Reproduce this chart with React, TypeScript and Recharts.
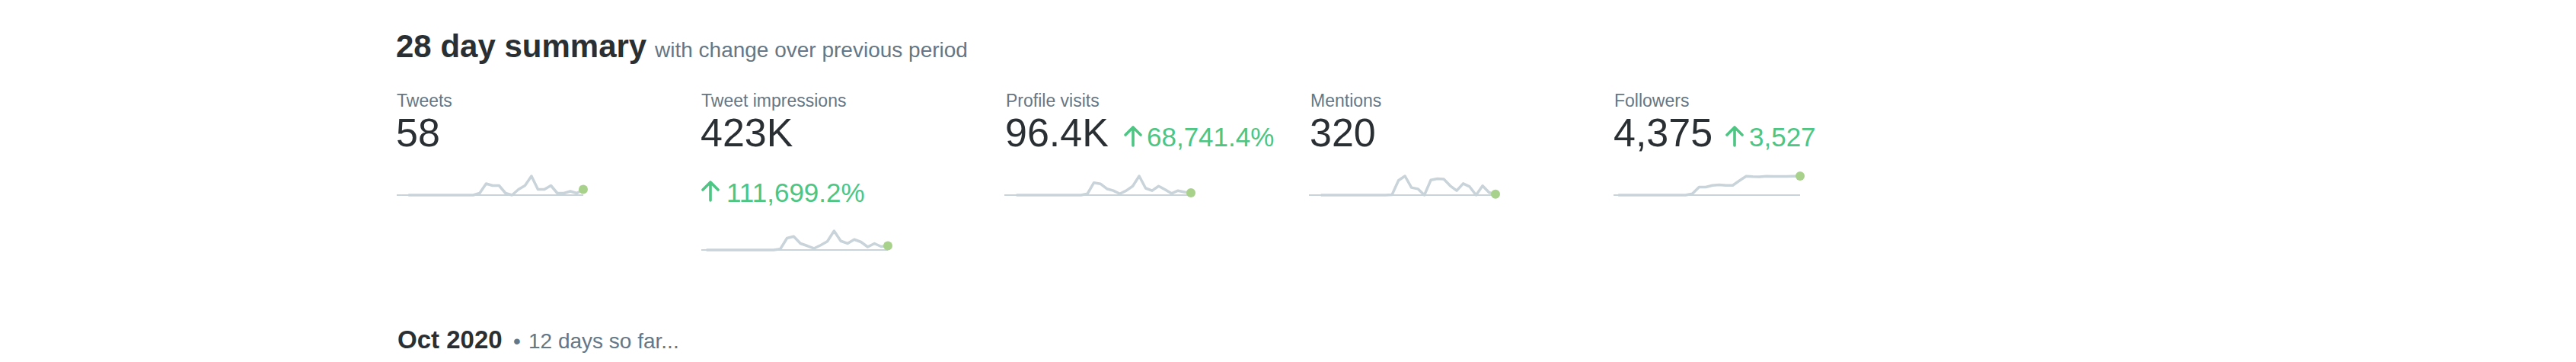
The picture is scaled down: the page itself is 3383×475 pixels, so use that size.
import React from "react";
import { LineChart, Line, XAxis, YAxis, ReferenceLine, ReferenceDot } from "recharts";

// ---- data ----
const DAY_LABELS = [
  "Sep 15", "Sep 16", "Sep 17", "Sep 18", "Sep 19", "Sep 20", "Sep 21",
  "Sep 22", "Sep 23", "Sep 24", "Sep 25", "Sep 26", "Sep 27", "Sep 28",
  "Sep 29", "Sep 30", "Oct 1", "Oct 2", "Oct 3", "Oct 4", "Oct 5",
  "Oct 6", "Oct 7", "Oct 8", "Oct 9", "Oct 10", "Oct 11", "Oct 12",
];

const TWEETS = [0, 0, 0, 0, 0, 0, 0, 0, 0, 0, 0, 1, 6, 5, 5, 1, 0, 3, 5, 10, 3, 3, 5, 1, 1, 2, 1, 3];
const IMPRESSIONS = [
  0, 0, 0, 0, 0, 0, 0, 0, 0, 0,
  200, 3300, 41000, 47000, 22500, 14500, 5300, 16500, 29700, 66000,
  31000, 22500, 36300, 27700, 10600, 22500, 11900, 14500,
];
const PROFILE_VISITS = [
  0, 0, 0, 0, 0, 0, 0, 0, 0, 0,
  0, 1200, 11200, 10200, 5700, 4000, 1200, 4000, 8100, 17200,
  6200, 4000, 8100, 5000, 1500, 4000, 2800, 2100,
];
const MENTIONS = [0, 0, 0, 0, 0, 0, 0, 0, 0, 0, 0, 1, 33, 43, 17, 14, 0, 34, 37, 36, 21, 10, 26, 19, 0, 21, 6, 2];
const FOLLOWERS = [
  848, 848, 848, 848, 848, 848, 848, 848, 848, 848,
  848, 1095, 2329, 2329, 2647, 2752, 2647, 2647, 3529, 4340,
  4270, 4235, 4330, 4290, 4300, 4310, 4345, 4375,
];

const METRIC_LABELS = ["Tweets", "Tweet impressions", "Profile visits", "Mentions", "Followers"];
const METRIC_VALUES = ["58", "423K", "96.4K", "320", "4,375"];
const METRIC_CHANGES = [null, "111,699.2%", "68,741.4%", null, "3,527"];

// ---- styles ----
const FONT = "'Liberation Sans', Arial, Helvetica, sans-serif";
const DARK = "#292F33";
const GRAY = "#657786";
const GREEN = "#4DC583";
const LINE_GRAY = "#C9D3DA";
const DOT_GREEN = "#A8D28C";

const PLOT_W = 245;
const PLOT_H = 25;
const M = { top: 10, right: 14, bottom: 10, left: 0 };

type SparkProps = { values: number[]; lead: number; left: number; top: number };

function Spark({ values, lead, left, top }: SparkProps) {
  const data = values.map((v, i) => ({ day: i, label: DAY_LABELS[i], value: v }));
  const last = values.length - 1;
  const min = Math.min(...values);
  return (
    <div style={{ position: "absolute", left: left - M.left, top: top - M.top }}>
      <LineChart width={PLOT_W + M.left + M.right} height={PLOT_H + M.top + M.bottom} data={data} margin={M}>
        <XAxis dataKey="day" type="number" domain={[-lead, last]} hide />
        <YAxis type="number" domain={["dataMin", "dataMax"]} hide />
        <ReferenceLine y={min} stroke={LINE_GRAY} strokeWidth={2} />
        <Line
          type="linear"
          dataKey="value"
          stroke={LINE_GRAY}
          strokeWidth={3.5}
          strokeLinejoin="round"
          dot={false}
          activeDot={false}
          isAnimationActive={false}
        />
        <ReferenceDot x={last} y={values[last]} r={6} fill={DOT_GREEN} stroke="none" />
      </LineChart>
    </div>
  );
}

function Arrow({ x, baseline }: { x: number; baseline: number }) {
  const cx = x + 11;
  const bottom = baseline - 1;
  const top = baseline - 26;
  return (
    <path
      d={`M${cx} ${bottom} L${cx} ${top + 1} M${cx - 10} ${top + 11} L${cx} ${top + 1} L${cx + 10} ${top + 11}`}
      stroke={GREEN}
      strokeWidth={3.6}
      strokeLinecap="round"
      strokeLinejoin="round"
      fill="none"
    />
  );
}

const COL_X = [520, 920, 1320, 1720, 2119];

export default function App() {
  return (
    <div style={{ position: "absolute", left: 0, top: 0, width: 3383, height: 475, background: "#fff", overflow: "hidden" }}>
      <svg width={3383} height={475} style={{ position: "absolute", left: 0, top: 0 }} fontFamily={FONT}>
        <text x={520} y={75} fontSize={42} fontWeight={700} fill={DARK}>28 day summary</text>
        <text x={860} y={75} fontSize={28} fill={GRAY}>with change over previous period</text>

        {METRIC_LABELS.map((l, i) => (
          <text key={l} x={COL_X[i] + 1} y={140} fontSize={23} fill={GRAY}>{l}</text>
        ))}
        {METRIC_VALUES.map((v, i) => (
          <text key={v} x={COL_X[i]} y={192} fontSize={52} fill={DARK}>{v}</text>
        ))}

        {/* Tweet impressions change (second line) */}
        <Arrow x={922} baseline={264} />
        <text x={954} y={265} fontSize={35} fill={GREEN}>{METRIC_CHANGES[1]}</text>

        {/* Profile visits change */}
        <Arrow x={1477} baseline={192} />
        <text x={1506} y={192} fontSize={35} fill={GREEN}>{METRIC_CHANGES[2]}</text>

        {/* Followers change */}
        <Arrow x={2267} baseline={192} />
        <text x={2297} y={192} fontSize={35} fill={GREEN}>{METRIC_CHANGES[4]}</text>

        <text x={522} y={457} fontSize={33} fontWeight={700} fill={DARK}>Oct 2020</text>
        <text x={674} y={457} fontSize={28} fill={GRAY}>•</text>
        <text x={694} y={457} fontSize={28} fill={GRAY}>12 days so far...</text>
      </svg>

      <Spark values={TWEETS} lead={1.8} left={521} top={231} />
      <Spark values={IMPRESSIONS} lead={0.75} left={921} top={303} />
      <Spark values={PROFILE_VISITS} lead={1.85} left={1319} top={231} />
      <Spark values={MENTIONS} lead={1.85} left={1719} top={231} />
      <Spark values={FOLLOWERS} lead={0.7} left={2119} top={231} />
    </div>
  );
}
